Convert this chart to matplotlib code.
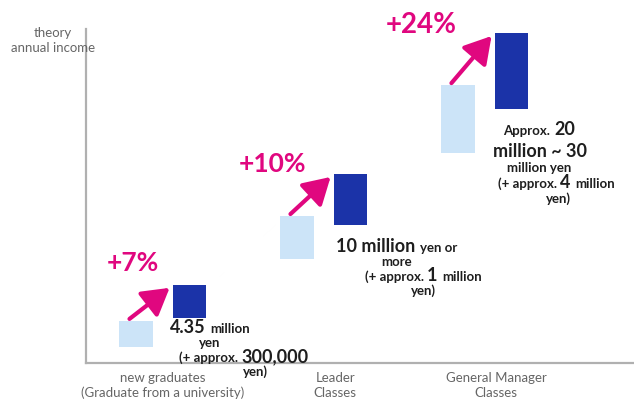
import matplotlib
matplotlib.use("Agg")
import matplotlib.pyplot as plt
from matplotlib.transforms import offset_copy

plt.rcParams['font.family'] = ['Lato', 'DejaVu Sans']

# Datos (escala relativa del ingreso anual)
grupos = ["new graduates\n(Graduate from a university)", "Leader\nClasses", "General Manager\nClasses"]
actual_bajo = [4.8, 31.1, 62.9]
actual_alto = [12.6, 44.0, 83.2]
teorico_bajo = [13.5, 41.3, 76.0]
teorico_alto = [23.4, 56.6, 98.8]
aumentos = ["+7%", "+10%", "+24%"]

# Textos de cada grupo: (texto, tamaño) por línea
etiquetas = [
    [[("4.35", 13), ("million", 9.5)],
     [("yen", 9.5)],
     [("(+ approx.", 9.5), ("300,000", 13)],
     [("yen)", 9.5)]],
    [[("10 million", 13), ("yen or", 9.5)],
     [("more", 9.5)],
     [("(+ approx.", 9.5), ("1", 13), ("million", 9.5)],
     [("yen)", 9.5)]],
    [[("Approx.", 9.5), ("20", 13)],
     [("million ~ 30", 13)],
     [("million yen", 9.5)],
     [("(+ approx.", 9.5), ("4", 13), ("million", 9.5)],
     [("yen)", 9.5)]],
]
# posición de cada línea respecto a la esquina inferior izquierda de la barra oscura (px)
posiciones = [
    [(-3, 15, 'left'), (37, 29, 'center'), (6, 44, 'left'), (83, 58, 'center')],
    [(2, 27, 'left'), (63, 41, 'center'), (31, 56, 'left'), (90, 70, 'center')],
    [(9, 26, 'left'), (-2, 48, 'left'), (12, 63, 'left'), (3, 79, 'left'), (64, 94, 'center')],
]
pos_aumento = [(-4, 50), (-25, 44), (-37, 52)]
x_etiquetas = [0.0, 1.07, 2.07]

azul_claro = "#cce4f8"
azul = "#1b33a8"
magenta = "#e0077f"
gris = "#666666"
texto = "#1e1e1e"

W, H = 634, 400
fig = plt.figure(figsize=(W / 100, H / 100), dpi=100)
ax = fig.add_axes([86 / W, 37 / H, 547 / W, 334 / H])

x = list(range(len(grupos)))
sep = 0.165
ancho = 0.21
x_claro = [i - sep for i in x]
x_oscuro = [i + sep for i in x]

ax.bar(x_claro, [a - b for a, b in zip(actual_alto, actual_bajo)], bottom=actual_bajo,
       width=ancho, color=azul_claro)
ax.bar(x_oscuro, [a - b for a, b in zip(teorico_alto, teorico_bajo)], bottom=teorico_bajo,
       width=ancho, color=azul)

ax.set_xlim(-0.478, 2.92)
ax.set_ylim(0, 100)
for s in ["top", "right"]:
    ax.spines[s].set_visible(False)
for s in ["left", "bottom"]:
    ax.spines[s].set_color("#b0b0b0")
    ax.spines[s].set_linewidth(1.6)
ax.set_yticks([])
ax.set_xticks(x_etiquetas, grupos, fontsize=9.5, color=gris, linespacing=1.25)
ax.tick_params(axis='x', length=0, pad=6.5)

fig.text(53 / W, 1 - 27 / H, "theory\nannual income", ha='center', va='top',
         fontsize=9.5, color=gris, linespacing=1.25)


def px(dx, dy):
    # desplazamiento en píxeles sobre coordenadas de datos (dy hacia abajo)
    return offset_copy(ax.transData, fig=fig, x=dx, y=-dy, units='dots')


r = fig.canvas.get_renderer()

for i in x:
    izq_claro = x_claro[i] - ancho / 2
    izq_oscuro = x_oscuro[i] - ancho / 2

    # flecha de aumento
    ax.annotate("", xy=(izq_oscuro, teorico_alto[i]), xycoords=px(-3, 3),
                xytext=(izq_claro, actual_alto[i]), textcoords=px(10, -2),
                arrowprops=dict(arrowstyle='-|>,head_length=0.85,head_width=0.5',
                                color=magenta, lw=3, shrinkA=0, shrinkB=0,
                                mutation_scale=19))
    dx, dy = pos_aumento[i]
    tam_pct = 20 if i == 2 else 19
    ax.text(x_claro[i], actual_alto[i], aumentos[i], transform=px(dx, -dy),
            ha='center', va='baseline', fontsize=tam_pct, fontweight='bold', color=magenta)

    # etiquetas de valor con tamaños mezclados
    for partes, (dx, dy, ha) in zip(etiquetas[i], posiciones[i]):
        piezas = []
        anchos = []
        for t, tam in partes:
            obj = ax.text(0, 0, t, fontsize=tam, fontweight='bold', color=texto,
                          va='baseline', ha='left')
            anchos.append(obj.get_window_extent(renderer=r).width)
            piezas.append((obj, tam))
        huecos = [0.27 * tam * 100 / 72 for _, tam in piezas[:-1]]
        total = sum(anchos) + sum(huecos)
        cur = dx - total / 2 if ha == 'center' else dx
        for k, (obj, tam) in enumerate(piezas):
            obj.set_position((izq_oscuro, teorico_bajo[i]))
            obj.set_transform(px(cur, dy))
            cur += anchos[k] + (huecos[k] if k < len(huecos) else 0)

fig.savefig("out.png", dpi=100)
